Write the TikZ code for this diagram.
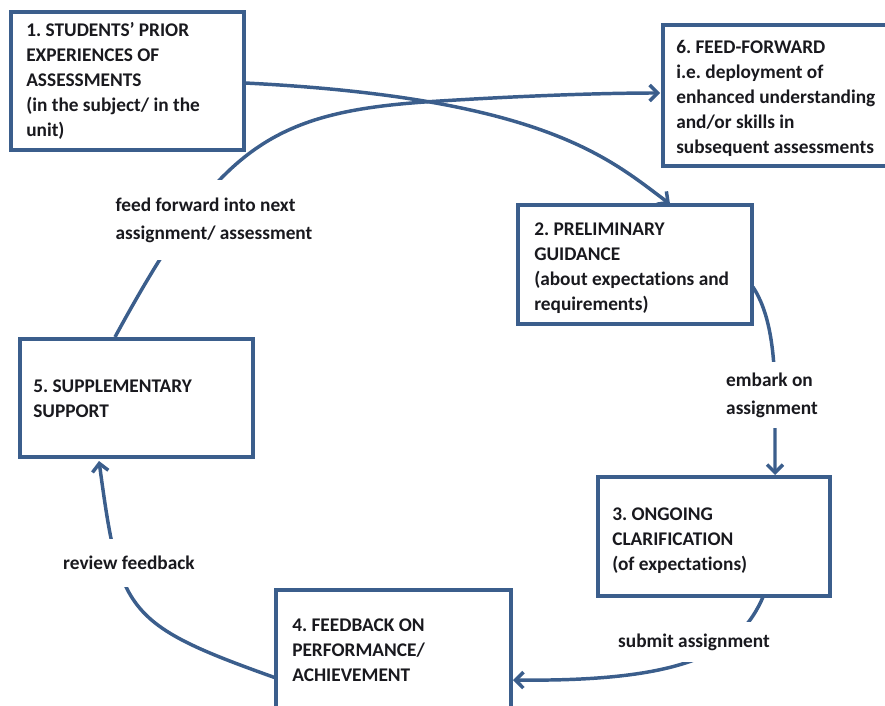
\documentclass[tikz,border=0pt]{standalone}
\usepackage{fontspec}
\setmainfont{Carlito}[Ligatures=NoCommon]
\usetikzlibrary{arrows.meta,fit}
\definecolor{edge}{RGB}{59,94,140}
\definecolor{ink}{RGB}{25,25,30}
\frenchspacing
\begin{document}
\begin{tikzpicture}[x=0.75pt,y=-0.75pt,
  stagebox/.style={draw=edge,line width=3pt,inner sep=0pt},
  boxtext/.style={anchor=north west,inner sep=0pt,align=left,text=ink,font=\fontsize{14.5}{18.75}\selectfont\bfseries},
  flowlabel/.style={fill=white,inner xsep=2pt,inner ysep=0pt,align=left,text=ink,font=\fontsize{14.5}{21}\selectfont\bfseries},
  flow/.style={draw=edge,line width=2.6pt,-{Straight Barb[length=6pt,width=12pt]}}]
\useasboundingbox (0,0) rectangle (885,706);
\clip (0,0) rectangle (885,706);

% boxes
\node[stagebox, fit={(11.3,11.7) (243.5,150.5)}] (b1) {};
\node[stagebox, fit={(663,24.7) (900,166)}] (b6) {};
\node[stagebox, fit={(518,205) (752,324)}] (b2) {};
\node[stagebox, fit={(19.5,339) (253,457.3)}] (b5) {};
\node[stagebox, fit={(597.5,477) (830,595.5)}] (b3) {};
\node[stagebox, fit={(276,589.5) (510.5,709)}] (b4) {};

% box texts
\node[boxtext] (t1) at (26,22) {1. STUDENTS’ PRIOR\\EXPERIENCES OF\\ASSESSMENTS\\(in the subject/ in the\\unit)};
\node[boxtext] (t6) at (676,40) {6. FEED-FORWARD\\i.e. deployment of\\enhanced understanding\\and/or skills in\\subsequent assessments};
\node[boxtext] (t2) at (534,223) {2. PRELIMINARY\\GUIDANCE\\(about expectations and\\requirements)};
\node[boxtext] (t5) at (33,380) {5. SUPPLEMENTARY\\SUPPORT};
\node[boxtext] (t3) at (612,508) {3. ONGOING\\CLARIFICATION\\(of expectations)};
\node[boxtext] (t4) at (292,619) {4. FEEDBACK ON\\PERFORMANCE/\\ACHIEVEMENT};

% connector end points
\coordinate (p1s) at (245,83);
\coordinate (p1e) at (670,204);
\coordinate (ffs) at (115,337);
\coordinate (ffm) at (440,101);
\coordinate (ffe) at (660,93);
\coordinate (e2s) at (753,287);
\coordinate (e2e) at (775,475);
\coordinate (s3) at (763,597);
\coordinate (s4) at (513,680);
\coordinate (r4) at (276,678);
\coordinate (r5) at (99,461);

% connectors
\draw[flow] (p1s) .. controls (545,98) and (610,159.4) .. (p1e);
\draw[flow] (ffs) .. controls (220,144.5) and (270,111) .. (ffm) .. controls (520,96) and (600,93) .. (ffe);
\draw[flow] (e2s) .. controls (768,310) and (775,345) .. (775,400) -- (e2e);
\draw[flow] (s3) .. controls (740,650) and (690,682) .. (s4);
\draw[flow] (r4) .. controls (124,624) and (119.6,612) .. (r5);

% connector labels
\node[flowlabel, minimum height=60pt] (lff) at (214,220) {feed forward into next\\assignment/ assessment};
\node[flowlabel, minimum height=50pt] (lem) at (772,395) {embark on\\assignment};
\node[flowlabel, minimum height=30pt] (lsu) at (694,642) {submit assignment};
\node[flowlabel, minimum height=36pt] (lre) at (129,563) {review feedback};
\end{tikzpicture}
\end{document}
